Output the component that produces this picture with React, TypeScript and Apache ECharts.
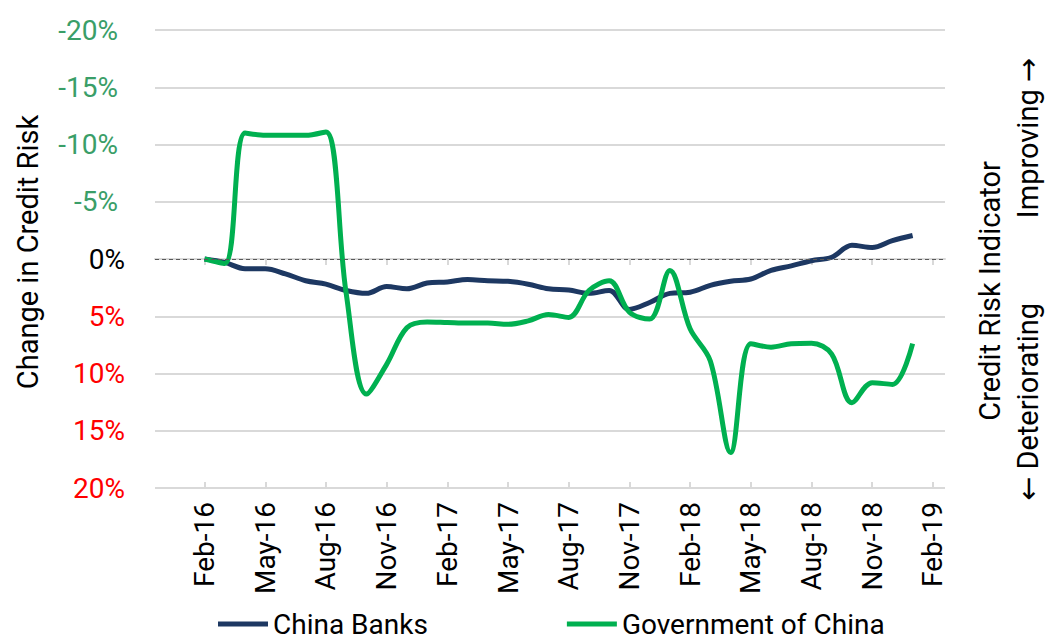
import React, { useEffect, useRef } from "react";
import * as echarts from "echarts";

const months = [
  "Feb-16","Mar-16","Apr-16","May-16","Jun-16","Jul-16","Aug-16","Sep-16","Oct-16","Nov-16","Dec-16",
  "Jan-17","Feb-17","Mar-17","Apr-17","May-17","Jun-17","Jul-17","Aug-17","Sep-17","Oct-17","Nov-17","Dec-17",
  "Jan-18","Feb-18","Mar-18","Apr-18","May-18","Jun-18","Jul-18","Aug-18","Sep-18","Oct-18","Nov-18","Dec-18",
  "Jan-19",
];

const chinaBanks = [
  0, 0.3, 0.85, 0.85, 1.3, 1.9, 2.2, 2.75, 3.0, 2.4, 2.6,
  2.1, 2.0, 1.8, 1.9, 1.95, 2.2, 2.6, 2.7, 3.0, 2.75, 4.4, 3.8,
  3.0, 2.9, 2.3, 1.95, 1.75, 1.0, 0.6, 0.15, -0.15, -1.2, -1.0, -1.6,
  -2.05,
];

const govChina = [
  0, 0.4, -11.0, -10.8, -10.8, -10.8, -11.1, 3.0, 11.8, 9.2, 6.0,
  5.5, 5.55, 5.6, 5.6, 5.7, 5.4, 4.85, 5.1, 2.75, 1.9, 4.65, 5.25,
  1.0, 6.1, 8.9, 16.9, 7.4, 7.7, 7.4, 7.35, 8.3, 12.55, 10.8, 10.95,
  7.4,
];

const tickLabels = [
  "Feb-16","May-16","Aug-16","Nov-16","Feb-17","May-17","Aug-17","Nov-17",
  "Feb-18","May-18","Aug-18","Nov-18","Feb-19",
];
const tickMonths = tickLabels.map((_, i) => i * 3);

const FONT = "Roboto";
const FS = 29;
const GREEN_LABEL = "#3a9e68";
const RED_LABEL = "#ff0000";
const BLUE = "#1d3862";
const GREEN = "#00b050";

export default function App() {
  const ref = useRef<HTMLDivElement>(null);

  useEffect(() => {
    if (!ref.current) return;
    const chart = echarts.init(ref.current, null, { renderer: "svg" });

    const xCommon = {
      type: "value" as const,
      min: -2.45,
      max: 36.6,
      splitLine: { show: false },
    };

    const sideText = (text: string, x: number, y: number) => ({
      type: "text",
      x,
      y,
      rotation: Math.PI / 2,
      style: {
        text,
        fontSize: FS,
        fontFamily: FONT,
        fill: "#000",
        align: "center",
        verticalAlign: "middle",
        rich: {
          a: { fontFamily: "DejaVu Sans", fontSize: FS, fill: "#000" },
        },
      },
    });

    const option: any = {
      animation: false,
      textStyle: { fontFamily: FONT },
      grid: { left: 155, right: 100, top: 30, bottom: 156 },
      xAxis: [
        {
          ...xCommon,
          axisLine: { show: true, lineStyle: { color: "#d9d9d9", width: 2 } },
          axisTick: {
            show: true,
            length: 6,
            customValues: tickMonths,
            lineStyle: { color: "#d9d9d9", width: 2 },
          },
          axisLabel: {
            customValues: tickMonths,
            rotate: 90,
            margin: 14,
            fontSize: 28,
            fontFamily: FONT,
            color: "#000",
            formatter: (v: number) => tickLabels[Math.round(v / 3)] ?? "",
          },
        },
        {
          ...xCommon,
          position: "bottom",
          axisLine: { show: false },
          axisTick: {
            show: true,
            inside: true,
            length: 6,
            customValues: tickMonths,
            lineStyle: { color: "#d9d9d9", width: 2 },
          },
          axisLabel: { show: false },
        },
      ],
      yAxis: {
        type: "value",
        inverse: true,
        min: -20,
        max: 20,
        interval: 5,
        axisLine: { show: false },
        axisTick: { show: false },
        splitLine: {
          show: true,
          lineStyle: {
            width: 2,
            color: [
              "#d9d9d9","#d9d9d9","#d9d9d9","#d9d9d9","rgba(0,0,0,0)",
              "#d9d9d9","#d9d9d9","#d9d9d9","#d9d9d9",
            ],
          },
        },
        axisLabel: {
          margin: 30,
          fontSize: 28,
          fontFamily: FONT,
          formatter: (v: number) => {
            if (v < 0) return `{g|${v}%}`;
            if (v > 0) return `{r|${v}%}`;
            return `{k|0%}`;
          },
          rich: {
            g: { color: GREEN_LABEL, fontSize: 28, fontFamily: FONT, padding: [0, 7, 0, 0] },
            r: { color: RED_LABEL, fontSize: 28, fontFamily: FONT },
            k: { color: "#000", fontSize: 28, fontFamily: FONT },
          },
        },
      },
      legend: {
        left: 218,
        top: 610,
        padding: 0,
        icon: "rect",
        itemWidth: 50,
        itemHeight: 5,
        itemGap: 139,
        itemTextGap: 1,
        textStyle: { fontSize: 28, lineHeight: 28, fontFamily: FONT, color: "#000" },
        data: ["China Banks", "Government of China"],
      },
      series: [
        {
          name: "China Banks",
          type: "line",
          smooth: 0.35,
          showSymbol: false,
          data: chinaBanks.map((v, i) => [i, v]),
          lineStyle: { color: BLUE, width: 5 },
          itemStyle: { color: BLUE },
          z: 3,
          markLine: {
            silent: true,
            symbol: "none",
            label: { show: false },
            lineStyle: { color: "#595959", type: [4, 3], width: 1 },
            data: [{ yAxis: 0 }],
          },
        },
        {
          name: "Government of China",
          type: "line",
          smooth: 0.35,
          showSymbol: false,
          data: govChina.map((v, i) => [i, v]),
          lineStyle: { color: GREEN, width: 5 },
          itemStyle: { color: GREEN },
          z: 4,
        },
      ],
      graphic: [
        sideText("Change in Credit Risk", 28, 252),
        sideText("Credit Risk Indicator", 990, 291),
        sideText("Improving {a|\u2192}", 1028, 138),
        sideText("{a|\u2190} Deteriorating", 1028, 402),
      ],
    };

    chart.setOption(option);
    return () => chart.dispose();
  }, []);

  return <div ref={ref} style={{ width: 1045, height: 644, position: "absolute", left: 0, top: 0 }} />;
}
